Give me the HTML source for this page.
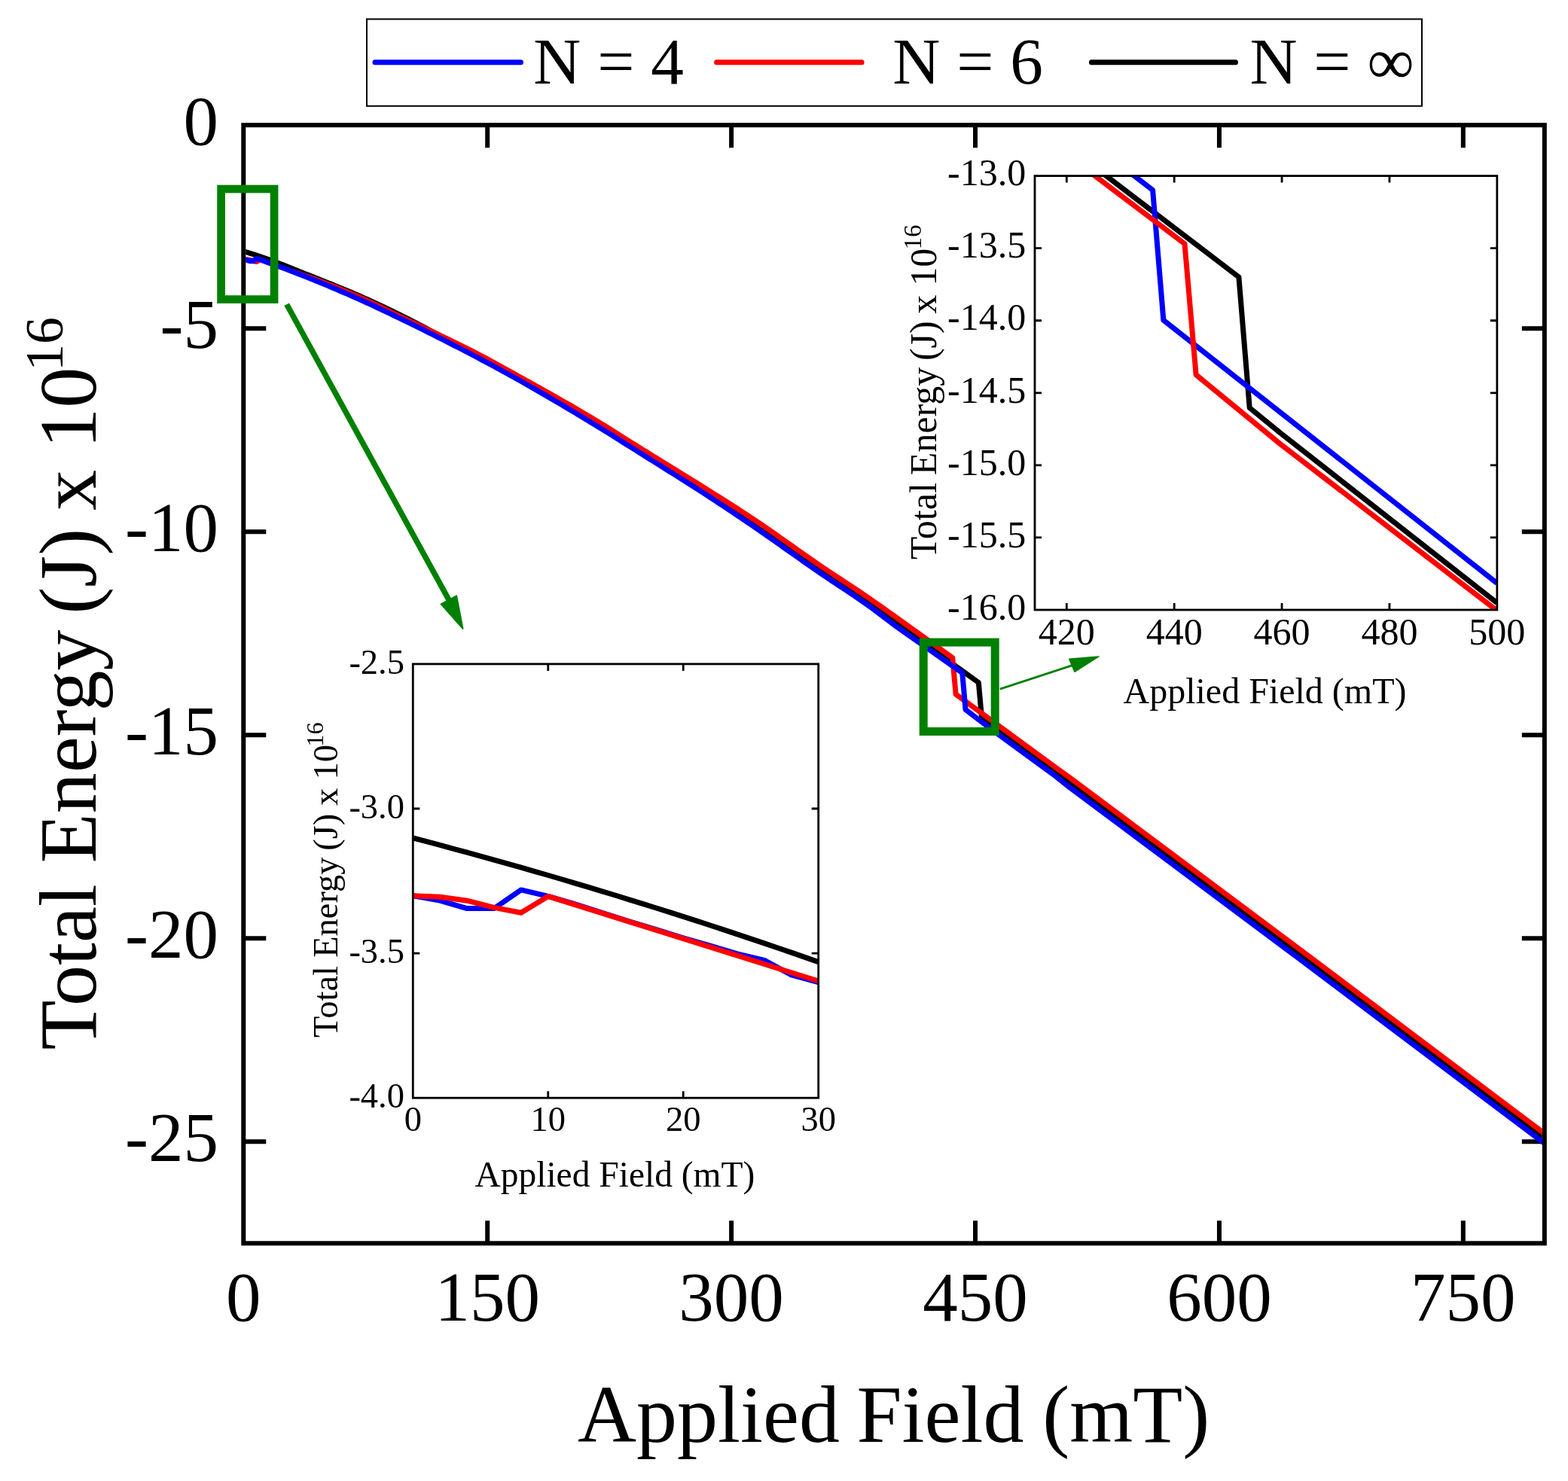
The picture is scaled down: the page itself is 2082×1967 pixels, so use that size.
<!DOCTYPE html>
<html><head><meta charset="utf-8"><style>
html,body{margin:0;padding:0;background:#fff;}
body{width:2082px;height:1967px;overflow:hidden;}
svg{display:block;}
text{font-kerning:normal;}
</style></head><body>
<svg width="2082" height="1967" viewBox="0 0 2082 1967">
<rect x="0" y="0" width="2082" height="1967" fill="#fff"/>
<defs>
<clipPath id="cm"><rect x="326.3" y="169.15" width="1721.5" height="1479.15"/></clipPath>
</defs>
<rect x="323.3" y="166.15" width="1727.5" height="1485.15" fill="none" stroke="#000" stroke-width="6"/>
<path d="M647.21,1651.3V1621.3M647.21,166.15V196.15M971.11,1651.3V1621.3M971.11,166.15V196.15M1295.02,1651.3V1621.3M1295.02,166.15V196.15M1618.93,1651.3V1621.3M1618.93,166.15V196.15M1942.83,1651.3V1621.3M1942.83,166.15V196.15M323.3,436.18H353.3M2050.8,436.18H2020.8M323.3,706.2H353.3M2050.8,706.2H2020.8M323.3,976.23H353.3M2050.8,976.23H2020.8M323.3,1246.26H353.3M2050.8,1246.26H2020.8M323.3,1516.29H353.3M2050.8,1516.29H2020.8" stroke="#000" stroke-width="6" fill="none"/>
<g clip-path="url(#cm)" fill="none" stroke-width="7" stroke-linejoin="round" stroke-linecap="butt">
<path stroke="#000" d="M323.3,333.64 L327.62,334.98 L331.94,336.34 L336.26,337.73 L340.57,339.15 L344.89,340.61 L349.21,342.09 L353.53,343.6 L357.85,345.15 L362.17,346.72 L366.49,348.32 L370.81,349.95 L375.12,351.62 L379.44,353.31 L383.76,355.04 L388.08,356.79 L392.4,358.52 L396.72,360.24 L401.04,361.95 L405.36,363.66 L409.68,365.37 L413.99,367.07 L418.31,368.78 L422.63,370.48 L426.95,372.19 L431.27,373.91 L435.59,375.63 L439.91,377.37 L444.23,379.12 L448.54,380.88 L452.86,382.65 L457.18,384.44 L461.5,386.26 L465.82,388.09 L470.14,389.95 L474.46,391.83 L478.78,393.72 L483.09,395.64 L487.41,397.57 L491.73,399.53 L496.05,401.5 L500.37,403.49 L504.69,405.49 L509.01,407.52 L513.33,409.56 L517.64,411.63 L521.96,413.71 L526.28,415.81 L530.6,417.92 L534.92,420.06 L539.24,422.23 L543.56,424.42 L547.88,426.64 L552.19,428.88 L556.51,431.13 L560.83,433.41 L565.15,435.7 L569.47,438 L573.79,440.32 L578.11,442.65 L582.43,444.99 L586.74,447.33 L591.06,449.69 L595.38,452.04 L599.7,454.4 L604.02,456.76 L608.34,459.12 L612.66,461.48 L616.98,463.83 L621.29,466.18 L625.61,468.52 L629.93,470.85 L634.25,473.17 L638.57,475.49 L642.89,477.81 L647.21,480.12 L651.53,482.44 L655.84,484.76 L660.16,487.09 L664.48,489.43 L668.8,491.77 L673.12,494.12 L677.44,496.49 L681.76,498.87 L686.08,501.27 L690.39,503.68 L694.71,506.11 L699.03,508.55 L703.35,511 L707.67,513.46 L711.99,515.93 L716.31,518.41 L720.62,520.89 L724.94,523.39 L729.26,525.89 L733.58,528.4 L737.9,530.92 L742.22,533.45 L746.54,535.99 L750.86,538.53 L755.18,541.09 L759.49,543.65 L763.81,546.22 L768.13,548.8 L772.45,551.38 L776.77,553.97 L781.09,556.57 L785.41,559.18 L789.73,561.79 L794.04,564.42 L798.36,567.07 L802.68,569.74 L807,572.42 L811.32,575.12 L815.64,577.83 L819.96,580.54 L824.28,583.27 L828.59,585.99 L832.91,588.72 L837.23,591.45 L841.55,594.17 L845.87,596.89 L850.19,599.6 L854.51,602.3 L858.83,605 L863.14,607.69 L867.46,610.39 L871.78,613.08 L876.1,615.77 L880.42,618.46 L884.74,621.15 L889.06,623.84 L893.38,626.53 L897.69,629.23 L902.01,631.93 L906.33,634.64 L910.65,637.35 L914.97,640.06 L919.29,642.78 L923.61,645.51 L927.93,648.25 L932.24,651 L936.56,653.75 L940.88,656.52 L945.2,659.29 L949.52,662.07 L953.84,664.86 L958.16,667.65 L962.48,670.45 L966.79,673.25 L971.11,676.07 L975.43,678.9 L979.75,681.74 L984.07,684.59 L988.39,687.45 L992.71,690.33 L997.03,693.22 L1001.34,696.13 L1005.66,699.06 L1009.98,702.02 L1014.3,704.99 L1018.62,707.98 L1022.94,710.99 L1027.26,714.01 L1031.58,717.05 L1035.89,720.09 L1040.21,723.14 L1044.53,726.19 L1048.85,729.25 L1053.17,732.31 L1057.49,735.37 L1061.81,738.42 L1066.13,741.47 L1070.44,744.51 L1074.76,747.55 L1079.08,750.57 L1083.4,753.57 L1087.72,756.56 L1092.04,759.53 L1096.36,762.48 L1100.68,765.4 L1104.99,768.31 L1109.31,771.2 L1113.63,774.09 L1117.95,776.98 L1122.27,779.87 L1126.59,782.77 L1130.91,785.68 L1135.23,788.61 L1139.54,791.57 L1143.86,794.55 L1148.18,797.57 L1152.5,800.63 L1156.82,803.72 L1161.14,806.84 L1165.46,809.98 L1169.78,813.16 L1174.09,816.35 L1178.41,819.57 L1182.73,822.81 L1187.05,826.07 L1208.64,841.53 L1230.24,857 L1251.83,872.47 L1273.43,887.94 L1299.34,906.5 L1303.66,954.79 L1315.9,964.13 L1402.99,1027.65 L1420.48,1039.96 L1720.63,1263.54 L2050.8,1510.89"/>
<path stroke="#f00" d="M323.3,344.42 L327.62,344.64 L331.94,345.34 L336.26,346.64 L340.57,347.61 L344.89,344.53 L353.53,347.69 L362.17,350.86 L370.81,354.02 L379.44,357.19 L388.08,360.35 L392.4,361.77 L396.72,363.22 L401.04,364.7 L405.36,366.2 L409.68,367.73 L413.99,369.29 L418.31,370.87 L422.63,372.47 L426.95,374.09 L431.27,375.74 L435.59,377.41 L439.91,379.1 L444.23,380.81 L448.54,382.54 L452.86,384.29 L457.18,386.06 L461.5,387.84 L465.82,389.64 L470.14,391.46 L474.46,393.31 L478.78,395.22 L483.09,397.17 L487.41,399.16 L491.73,401.18 L496.05,403.24 L500.37,405.31 L504.69,407.4 L509.01,409.51 L513.33,411.61 L517.64,413.72 L521.96,415.82 L526.28,417.91 L530.6,419.98 L534.92,422.03 L539.24,424.08 L543.56,426.12 L547.88,428.16 L552.19,430.2 L556.51,432.23 L560.83,434.27 L565.15,436.31 L569.47,438.35 L573.79,440.39 L578.11,442.44 L582.43,444.5 L586.74,446.56 L591.06,448.63 L595.38,450.71 L599.7,452.81 L604.02,454.91 L608.34,457.03 L612.66,459.17 L616.98,461.32 L621.29,463.49 L625.61,465.67 L629.93,467.88 L634.25,470.11 L638.57,472.37 L642.89,474.65 L647.21,476.95 L651.53,479.28 L655.84,481.62 L660.16,483.98 L664.48,486.35 L668.8,488.73 L673.12,491.12 L677.44,493.51 L681.76,495.91 L686.08,498.31 L690.39,500.71 L694.71,503.11 L699.03,505.51 L703.35,507.92 L707.67,510.32 L711.99,512.73 L716.31,515.15 L720.62,517.57 L724.94,519.99 L729.26,522.42 L733.58,524.86 L737.9,527.3 L742.22,529.75 L746.54,532.21 L750.86,534.68 L755.18,537.16 L759.49,539.65 L763.81,542.15 L768.13,544.66 L772.45,547.19 L776.77,549.72 L781.09,552.28 L785.41,554.84 L789.73,557.42 L794.04,560.02 L798.36,562.66 L802.68,565.32 L807,568 L811.32,570.7 L815.64,573.42 L819.96,576.14 L824.28,578.88 L828.59,581.62 L832.91,584.35 L837.23,587.09 L841.55,589.81 L845.87,592.53 L850.19,595.22 L854.51,597.91 L858.83,600.59 L863.14,603.26 L867.46,605.93 L871.78,608.59 L876.1,611.25 L880.42,613.91 L884.74,616.57 L889.06,619.22 L893.38,621.88 L897.69,624.54 L902.01,627.2 L906.33,629.87 L910.65,632.53 L914.97,635.21 L919.29,637.88 L923.61,640.57 L927.93,643.26 L932.24,645.96 L936.56,648.67 L940.88,651.39 L945.2,654.11 L949.52,656.84 L953.84,659.56 L958.16,662.29 L962.48,665.02 L966.79,667.76 L971.11,670.51 L975.43,673.27 L979.75,676.05 L984.07,678.84 L988.39,681.64 L992.71,684.47 L997.03,687.31 L1001.34,690.18 L1005.66,693.08 L1009.98,696.01 L1014.3,698.96 L1018.62,701.94 L1022.94,704.93 L1027.26,707.94 L1031.58,710.97 L1035.89,714.01 L1040.21,717.06 L1044.53,720.11 L1048.85,723.17 L1053.17,726.23 L1057.49,729.29 L1061.81,732.34 L1066.13,735.38 L1070.44,738.41 L1074.76,741.43 L1079.08,744.43 L1083.4,747.41 L1087.72,750.37 L1092.04,753.3 L1096.36,756.21 L1100.68,759.09 L1104.99,761.96 L1109.31,764.81 L1113.63,767.65 L1117.95,770.49 L1122.27,773.33 L1126.59,776.17 L1130.91,779.02 L1135.23,781.88 L1139.54,784.76 L1143.86,787.67 L1148.18,790.6 L1152.5,793.56 L1156.82,796.54 L1161.14,799.54 L1165.46,802.56 L1169.78,805.6 L1174.09,808.66 L1178.41,811.73 L1182.73,814.81 L1187.05,817.91 L1208.64,833.35 L1230.24,848.8 L1251.83,864.25 L1264.79,873.51 L1269.11,922.12 L1402.64,1020.03 L1420.48,1032.94 L1720.63,1256.95 L2050.8,1505.49"/>
<path stroke="#00f" d="M323.3,344.42 L327.62,345.34 L331.94,346.8 L336.26,346.8 L340.57,343.34 L344.89,344.53 L353.53,347.72 L362.17,350.85 L370.81,353.98 L379.44,357.06 L388.08,360.57 L392.4,362.22 L396.72,363.9 L401.04,365.58 L405.36,367.28 L409.68,369 L413.99,370.73 L418.31,372.48 L422.63,374.24 L426.95,376.01 L431.27,377.8 L435.59,379.6 L439.91,381.41 L444.23,383.24 L448.54,385.07 L452.86,386.92 L457.18,388.78 L461.5,390.65 L465.82,392.54 L470.14,394.43 L474.46,396.34 L478.78,398.27 L483.09,400.23 L487.41,402.2 L491.73,404.19 L496.05,406.2 L500.37,408.22 L504.69,410.26 L509.01,412.31 L513.33,414.37 L517.64,416.43 L521.96,418.51 L526.28,420.59 L530.6,422.68 L534.92,424.77 L539.24,426.87 L543.56,428.97 L547.88,431.09 L552.19,433.21 L556.51,435.34 L560.83,437.48 L565.15,439.63 L569.47,441.78 L573.79,443.94 L578.11,446.11 L582.43,448.29 L586.74,450.47 L591.06,452.66 L595.38,454.86 L599.7,457.07 L604.02,459.29 L608.34,461.51 L612.66,463.74 L616.98,465.98 L621.29,468.22 L625.61,470.48 L629.93,472.74 L634.25,475.01 L638.57,477.29 L642.89,479.58 L647.21,481.89 L651.53,484.2 L655.84,486.53 L660.16,488.87 L664.48,491.22 L668.8,493.58 L673.12,495.95 L677.44,498.34 L681.76,500.74 L686.08,503.15 L690.39,505.57 L694.71,508.01 L699.03,510.46 L703.35,512.92 L707.67,515.39 L711.99,517.87 L716.31,520.36 L720.62,522.86 L724.94,525.37 L729.26,527.9 L733.58,530.42 L737.9,532.96 L742.22,535.51 L746.54,538.07 L750.86,540.63 L755.18,543.2 L759.49,545.78 L763.81,548.36 L768.13,550.96 L772.45,553.55 L776.77,556.16 L781.09,558.77 L785.41,561.39 L789.73,564.01 L794.04,566.64 L798.36,569.29 L802.68,571.96 L807,574.64 L811.32,577.34 L815.64,580.04 L819.96,582.75 L824.28,585.47 L828.59,588.19 L832.91,590.92 L837.23,593.64 L841.55,596.37 L845.87,599.09 L850.19,601.81 L854.51,604.53 L858.83,607.24 L863.14,609.94 L867.46,612.65 L871.78,615.36 L876.1,618.06 L880.42,620.77 L884.74,623.48 L889.06,626.19 L893.38,628.9 L897.69,631.62 L902.01,634.34 L906.33,637.07 L910.65,639.81 L914.97,642.55 L919.29,645.3 L923.61,648.06 L927.93,650.84 L932.24,653.62 L936.56,656.41 L940.88,659.22 L945.2,662.04 L949.52,664.87 L953.84,667.72 L958.16,670.57 L962.48,673.44 L966.79,676.31 L971.11,679.2 L975.43,682.09 L979.75,685 L984.07,687.91 L988.39,690.84 L992.71,693.77 L997.03,696.71 L1001.34,699.65 L1005.66,702.61 L1009.98,705.59 L1014.3,708.58 L1018.62,711.59 L1022.94,714.61 L1027.26,717.64 L1031.58,720.68 L1035.89,723.72 L1040.21,726.77 L1044.53,729.82 L1048.85,732.87 L1053.17,735.92 L1057.49,738.97 L1061.81,742.01 L1066.13,745.05 L1070.44,748.08 L1074.76,751.1 L1079.08,754.1 L1083.4,757.1 L1087.72,760.08 L1092.04,763.04 L1096.36,765.96 L1100.68,768.86 L1104.99,771.74 L1109.31,774.6 L1113.63,777.46 L1117.95,780.31 L1122.27,783.17 L1126.59,786.04 L1130.91,788.93 L1135.23,791.84 L1139.54,794.79 L1143.86,797.77 L1148.18,800.8 L1152.5,803.88 L1156.82,807 L1161.14,810.17 L1165.46,813.37 L1169.78,816.61 L1174.09,819.88 L1178.41,823.18 L1182.73,826.5 L1187.05,829.85 L1208.64,845.04 L1230.24,860.23 L1251.83,875.43 L1277.74,893.66 L1282.06,942.48 L1315.9,968.24 L1400.4,1030.02 L1420.48,1045.9 L1720.63,1270.02 L2050.8,1518.45"/>
</g>
<g font-family='"Liberation Serif", "Times New Roman", serif' font-size="93" fill="#000">
<text x="323.3" y="1754" text-anchor="middle">0</text>
<text x="647.21" y="1754" text-anchor="middle">150</text>
<text x="971.11" y="1754" text-anchor="middle">300</text>
<text x="1295.02" y="1754" text-anchor="middle">450</text>
<text x="1618.93" y="1754" text-anchor="middle">600</text>
<text x="1942.83" y="1754" text-anchor="middle">750</text>
<text x="290" y="192.35" text-anchor="end">0</text>
<text x="290" y="462.38" text-anchor="end">-5</text>
<text x="290" y="732.4" text-anchor="end">-10</text>
<text x="290" y="1002.43" text-anchor="end">-15</text>
<text x="290" y="1272.46" text-anchor="end">-20</text>
<text x="290" y="1542.49" text-anchor="end">-25</text>
</g>
<text y="1914.7" font-family='"Liberation Serif", "Times New Roman", serif' font-size="108" id="xt"><tspan x="767.05">Applied </tspan><tspan x="1137.49">Field </tspan><tspan x="1384.25">(mT)</tspan></text>
<g transform="translate(126.8,0) rotate(-90)"><text y="0" font-family='"Liberation Serif", "Times New Roman", serif' font-size="108" id="yt"><tspan x="-1394.55">Total </tspan><tspan x="-1146.31">Energy </tspan><tspan x="-815.85">(J) </tspan><tspan x="-677.95">x </tspan><tspan x="-595.79">10</tspan><tspan x="-493.1" font-size="72" dy="-43.7">16</tspan></text></g>
<rect x="487" y="25.4" width="1401" height="115.4" fill="none" stroke="#000" stroke-width="2"/>
<g stroke-width="7" stroke-linecap="round">
<line x1="498" y1="82.7" x2="691.5" y2="82.7" stroke="#00f"/>
<line x1="951.6" y1="82.7" x2="1144.1" y2="82.7" stroke="#f00"/>
<line x1="1449.4" y1="82.7" x2="1640.5" y2="82.7" stroke="#000"/>
</g>
<g font-family='"Liberation Serif", "Times New Roman", serif' font-size="87.3" fill="#000">
<text x="708.3" y="111.4">N = 4</text>
<text x="1185.3" y="111.4">N = 6</text>
<text x="1659.5" y="111.4">N = ∞</text>
</g>
<clipPath id="c1"><rect x="548.3" y="881.9" width="538.4" height="576.3"/></clipPath>
<g clip-path="url(#c1)" fill="none" stroke-width="7" stroke-linejoin="round">
<path stroke="#000" d="M548.3,1112.96 L566.25,1117.67 L584.19,1122.44 L602.14,1127.26 L620.09,1132.13 L638.03,1137.06 L655.98,1142.04 L673.93,1147.08 L691.87,1152.16 L709.82,1157.31 L727.77,1162.5 L745.71,1167.75 L763.66,1173.05 L781.61,1178.4 L799.55,1183.81 L817.5,1189.27 L835.45,1194.79 L853.39,1200.36 L871.34,1205.98 L889.29,1211.65 L907.23,1217.38 L925.18,1223.17 L943.13,1229 L961.07,1234.89 L979.02,1240.83 L996.97,1246.83 L1014.91,1252.88 L1032.86,1258.98 L1050.81,1265.13 L1068.75,1271.34 L1086.7,1277.61"/>
<path stroke="#00f" d="M548.3,1189.64 L584.19,1196.18 L620.09,1206.55 L655.98,1206.55 L691.87,1181.96 L727.77,1190.41 L763.66,1200.79 L799.55,1212.31 L835.45,1223.84 L871.34,1234.6 L907.23,1245.74 L943.13,1256.11 L979.02,1266.87 L1014.91,1275.32 L1050.81,1294.91 L1086.7,1304.52"/>
<path stroke="#f00" d="M548.3,1189.64 L584.19,1191.18 L620.09,1196.18 L655.98,1205.4 L691.87,1212.31 L727.77,1190.41 L763.66,1201.67 L799.55,1212.93 L835.45,1224.18 L871.34,1235.44 L907.23,1246.7 L943.13,1257.95 L979.02,1269.21 L1014.91,1280.47 L1050.81,1291.73 L1086.7,1302.98"/>
</g>
<rect x="548.3" y="881.9" width="538.4" height="576.3" fill="none" stroke="#000" stroke-width="2.8"/>
<path d="M727.77,1458.2V1449.2M727.77,881.9V890.9M907.23,1458.2V1449.2M907.23,881.9V890.9M548.3,1074H557.3M1086.7,1074H1077.7M548.3,1266.1H557.3M1086.7,1266.1H1077.7" stroke="#000" stroke-width="2.8" fill="none"/>
<g font-family='"Liberation Serif", "Times New Roman", serif' font-size="46.5" fill="#000">
<text x="548.3" y="1502.4" text-anchor="middle">0</text>
<text x="727.77" y="1502.4" text-anchor="middle">10</text>
<text x="907.23" y="1502.4" text-anchor="middle">20</text>
<text x="1086.7" y="1502.4" text-anchor="middle">30</text>
<text x="537" y="894.9" text-anchor="end">-2.5</text>
<text x="537" y="1087" text-anchor="end">-3.0</text>
<text x="537" y="1279.1" text-anchor="end">-3.5</text>
<text x="537" y="1471.2" text-anchor="end">-4.0</text>
</g>
<text x="816.4" y="1576" font-family='"Liberation Serif", "Times New Roman", serif' font-size="47.5" text-anchor="middle" id="xt1">Applied Field (mT)</text>
<g transform="translate(448.4,0) rotate(-90)"><text y="0" font-family='"Liberation Serif", "Times New Roman", serif' font-size="46.5" id="yt1"><tspan x="-1377.94">Total </tspan><tspan x="-1271.84">Energy </tspan><tspan x="-1129.84">(J) </tspan><tspan x="-1069.91">x </tspan><tspan x="-1035.59">10</tspan><tspan x="-991.64" font-size="32.5" dy="-19">16</tspan></text></g>
<clipPath id="c2"><rect x="1374.0" y="233.6" width="613.8" height="576.4"/></clipPath>
<g clip-path="url(#c2)" fill="none" stroke-width="7" stroke-linejoin="round">
<path stroke="#000" d="M1373.44,160.67 L1644.91,368.09 L1659.2,541.59 L1699.7,574.83 L1987.82,800.78"/>
<path stroke="#00f" d="M1373.44,131.54 L1530.6,252.43 L1544.89,425.35 L1986.68,773.69 L1987.82,774.65"/>
<path stroke="#f00" d="M1373.44,172.76 L1572.97,323.71 L1588.11,497.78 L1699.7,589.43 L1987.82,811.15"/>
</g>
<rect x="1374.0" y="233.6" width="613.8" height="576.4" fill="none" stroke="#000" stroke-width="2.8"/>
<path d="M1416.3,810.0V801M1416.3,233.6V242.6M1559.18,810.0V801M1559.18,233.6V242.6M1702.06,810.0V801M1702.06,233.6V242.6M1844.94,810.0V801M1844.94,233.6V242.6M1374.0,329.67H1383M1987.8,329.67H1978.8M1374.0,425.73H1383M1987.8,425.73H1978.8M1374.0,521.8H1383M1987.8,521.8H1978.8M1374.0,617.87H1383M1987.8,617.87H1978.8M1374.0,713.93H1383M1987.8,713.93H1978.8" stroke="#000" stroke-width="2.8" fill="none"/>
<g font-family='"Liberation Serif", "Times New Roman", serif' font-size="50" fill="#000">
<text x="1416.3" y="856.4" text-anchor="middle">420</text>
<text x="1559.18" y="856.4" text-anchor="middle">440</text>
<text x="1702.06" y="856.4" text-anchor="middle">460</text>
<text x="1844.94" y="856.4" text-anchor="middle">480</text>
<text x="1987.82" y="856.4" text-anchor="middle">500</text>
<text x="1362.2" y="246.3" text-anchor="end">-13.0</text>
<text x="1362.2" y="342.37" text-anchor="end">-13.5</text>
<text x="1362.2" y="438.43" text-anchor="end">-14.0</text>
<text x="1362.2" y="534.5" text-anchor="end">-14.5</text>
<text x="1362.2" y="630.57" text-anchor="end">-15.0</text>
<text x="1362.2" y="726.63" text-anchor="end">-15.5</text>
<text x="1362.2" y="822.7" text-anchor="end">-16.0</text>
</g>
<text x="1679.5" y="933.5" font-family='"Liberation Serif", "Times New Roman", serif' font-size="48" text-anchor="middle" id="xt2">Applied Field (mT)</text>
<g transform="translate(1242.6,0) rotate(-90)"><text y="0" font-family='"Liberation Serif", "Times New Roman", serif' font-size="50" id="yt2"><tspan x="-743.2">Total </tspan><tspan x="-631.34">Energy </tspan><tspan x="-479.1">(J) </tspan><tspan x="-416.84">x </tspan><tspan x="-379.79">10</tspan><tspan x="-331.46" font-size="33" dy="-19.8">16</tspan></text></g>
<rect x="293.6" y="251" width="70.5" height="146.6" fill="none" stroke="#008000" stroke-width="10.7"/>
<rect x="1226.2" y="853.1" width="95" height="118.4" fill="none" stroke="#008000" stroke-width="11"/>
<line x1="380.7" y1="404.3" x2="597" y2="798.5" stroke="#008000" stroke-width="7.5"/>
<polygon points="614.5,834.9 585.7,802.3 606.2,791.4" fill="#008000" stroke="#008000" stroke-width="2" stroke-linejoin="round"/>
<line x1="1327.9" y1="915.2" x2="1424" y2="883.6" stroke="#008000" stroke-width="2.8"/>
<polygon points="1459,871.9 1419.7,875.3 1426.9,892.3" fill="#008000" stroke="#008000" stroke-width="1.5" stroke-linejoin="round"/>
</svg>
</body></html>
